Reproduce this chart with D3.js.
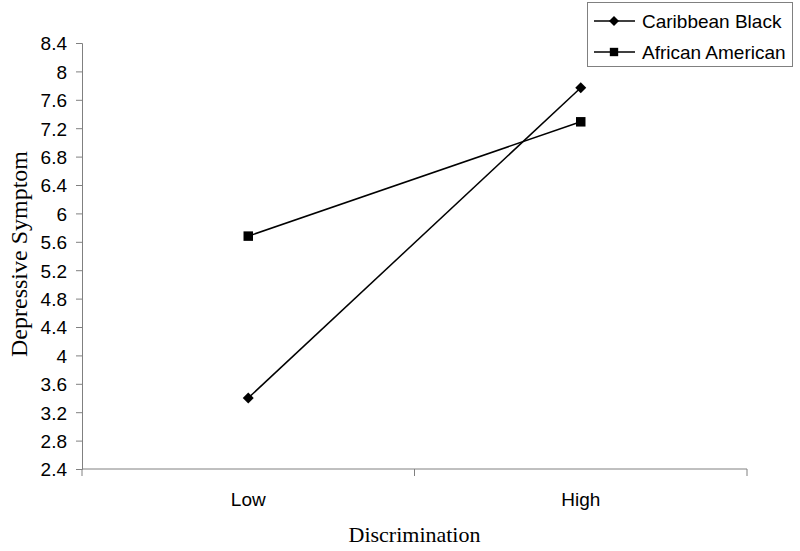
<!DOCTYPE html>
<html>
<head>
<meta charset="utf-8">
<script src="https://cdn.jsdelivr.net/npm/d3@7"></script>
<style>
  body { margin: 0; background: #fff; }
  text { fill: #000; }
</style>
</head>
<body>
<script>
// categories and series
var categories = ["Low", "High"];
var caribbeanBlack = [3.40, 7.77];
var africanAmerican = [5.68, 7.29];
var yTicks = [2.4, 2.8, 3.2, 3.6, 4, 4.4, 4.8, 5.2, 5.6, 6, 6.4, 6.8, 7.2, 7.6, 8, 8.4];

// square diamond (rotated square), like the old office marker
var squareDiamond = {
  draw: function(context, size) {
    var r = Math.sqrt(size / 2);
    context.moveTo(0, -r);
    context.lineTo(r, 0);
    context.lineTo(0, r);
    context.lineTo(-r, 0);
    context.closePath();
  }
};

var series = [
  { name: "Caribbean Black", values: caribbeanBlack, symbol: squareDiamond, size: 60, legendSize: 50 },
  { name: "African American", values: africanAmerican, symbol: d3.symbolSquare, size: 90, legendSize: 70 }
];

var width = 800, height = 551;
var margin = { left: 82, right: 53, top: 43, bottom: 82 };

var svg = d3.select("body").append("svg")
  .attr("width", width)
  .attr("height", height);

var x = d3.scaleBand()
  .domain(categories)
  .range([margin.left, width - margin.right]);

var y = d3.scaleLinear()
  .domain([2.4, 8.4])
  .range([height - margin.bottom, margin.top]);

var sans = "Arial, 'Liberation Sans', sans-serif";
var serif = "'Times New Roman', 'Liberation Serif', serif";

// y axis
var yAxis = svg.append("g")
  .attr("transform", "translate(" + margin.left + ",0)")
  .call(d3.axisLeft(y).tickValues(yTicks).tickSize(6).tickPadding(9)
    .tickFormat(function(d) { return d3.format("")(+d.toFixed(1)); }));
yAxis.selectAll("path, line").attr("stroke", "#808080");
yAxis.selectAll("text").style("font-family", sans).style("font-size", "19px").attr("dy", "0.36em");

// x axis: ticks at the band edges
var xAxisG = svg.append("g")
  .attr("transform", "translate(0," + y(2.4) + ")");
xAxisG.append("line")
  .attr("x1", margin.left).attr("x2", width - margin.right)
  .attr("stroke", "#808080");
var edges = [margin.left].concat(categories.map(function(c) { return x(c) + x.bandwidth(); }));
xAxisG.selectAll(".xtick").data(edges).enter().append("line")
  .attr("class", "xtick")
  .attr("x1", function(d) { return d; }).attr("x2", function(d) { return d; })
  .attr("y1", 0).attr("y2", 7)
  .attr("stroke", "#808080");
xAxisG.selectAll(".xlabel").data(categories).enter().append("text")
  .attr("x", function(d) { return x(d) + x.bandwidth() / 2; })
  .attr("y", 37)
  .attr("text-anchor", "middle")
  .style("font-family", sans).style("font-size", "19px")
  .text(function(d) { return d; });

// titles
svg.append("text")
  .attr("x", (margin.left + width - margin.right) / 2)
  .attr("y", 542)
  .attr("text-anchor", "middle")
  .style("font-family", serif).style("font-size", "22px")
  .text("Discrimination");

svg.append("text")
  .attr("transform", "translate(27,254) rotate(-90)")
  .attr("text-anchor", "middle")
  .style("font-family", serif).style("font-size", "24px")
  .text("Depressive Symptom");

// lines and markers
var line = d3.line()
  .x(function(d, i) { return x(categories[i]) + x.bandwidth() / 2; })
  .y(function(d) { return y(d); });

series.forEach(function(s) {
  svg.append("path")
    .datum(s.values)
    .attr("d", line)
    .attr("fill", "none")
    .attr("stroke", "#000")
    .attr("stroke-width", 1.5);
  svg.selectAll(null).data(s.values).enter().append("path")
    .attr("transform", function(d, i) {
      return "translate(" + (x(categories[i]) + x.bandwidth() / 2) + "," + y(d) + ")";
    })
    .attr("d", d3.symbol().type(s.symbol).size(s.size))
    .attr("fill", "#000");
});

// legend
var legend = svg.append("g");
legend.append("rect")
  .attr("x", 587.5).attr("y", 2.5)
  .attr("width", 205).attr("height", 64)
  .attr("fill", "#fff")
  .attr("stroke", "#808080");
var rows = legend.selectAll(".row").data(series).enter().append("g")
  .attr("class", "row")
  .attr("transform", function(d, i) { return "translate(0," + (21 + i * 31) + ")"; });
rows.append("line")
  .attr("x1", 594).attr("x2", 635)
  .attr("stroke", "#000").attr("stroke-width", 1.5);
rows.append("path")
  .attr("transform", "translate(614,0)")
  .attr("d", function(d) {
    return d3.symbol().type(d.symbol).size(d.legendSize)();
  })
  .attr("fill", "#000");
rows.append("text")
  .attr("x", 642).attr("dy", "0.36em")
  .style("font-family", sans).style("font-size", "19px")
  .text(function(d) { return d.name; });
</script>
</body>
</html>
